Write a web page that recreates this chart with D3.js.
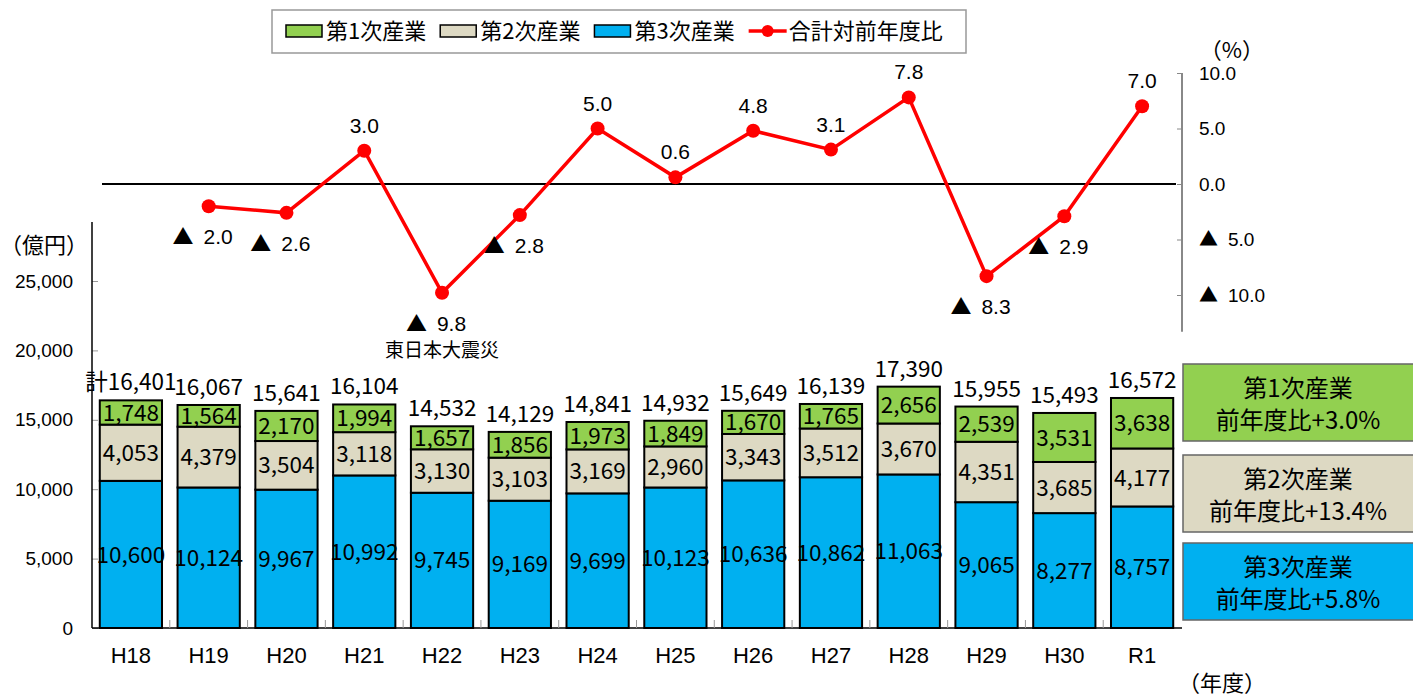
<!DOCTYPE html>
<html><head><meta charset="utf-8">
<script src="https://cdn.jsdelivr.net/npm/d3@7"></script>
<style>
body{margin:0;background:#fff;}
svg{display:block;}
text{font-family:"Liberation Sans",Arial,sans-serif;fill:#000;}
.jp{font-family:"Noto Sans CJK JP","Noto Sans",sans-serif;}
</style></head>
<body>
<svg id="c" width="1413" height="698"></svg>
<script>
const years = ["H18","H19","H20","H21","H22","H23","H24","H25","H26","H27","H28","H29","H30","R1"];
const primary = [1748,1564,2170,1994,1657,1856,1973,1849,1670,1765,2656,2539,3531,3638];
const secondary = [4053,4379,3504,3118,3130,3103,3169,2960,3343,3512,3670,4351,3685,4177];
const tertiary = [10600,10124,9967,10992,9745,9169,9699,10123,10636,10862,11063,9065,8277,8757];
const totals = [16401,16067,15641,16104,14532,14129,14841,14932,15649,16139,17390,15955,15493,16572];
const growth = [null,-2.0,-2.6,3.0,-9.8,-2.8,5.0,0.6,4.8,3.1,7.8,-8.3,-2.9,7.0];
const leftTicks = [0,5000,10000,15000,20000,25000];
const rightTicks = [10,5,0,-5,-10];
const seriesNames = ["第1次産業","第2次産業","第3次産業"];
const lineName = "合計対前年度比";
const sectorGrowth = ["+3.0%","+13.4%","+5.8%"];
const eventNote = "東日本大震災";
const eventYear = "H22";

const colors = {primary:"#92D050", secondary:"#DDD9C3", tertiary:"#00B0F0", line:"#FF0000"};
const svg = d3.select("#c");
const fmt = d3.format(",");

// writes a percentage with a large "▲" for negatives
function pctText(sel, v){
  sel.text(null);
  if(v<0){
    sel.append("tspan").attr("font-family","Noto Sans CJK JP, sans-serif").text("▲");
    sel.append("tspan").attr("dx",10).text(Math.abs(v).toFixed(1));
  } else {
    sel.append("tspan").text(v.toFixed(1));
  }
}

const x = d3.scaleBand().domain(years).range([92,1181]).paddingInner(0.2).paddingOuter(0.1);
const y = d3.scaleLinear().domain([0,25000]).range([628,281]);
const r = d3.scaleLinear().domain([-10,10]).range([295,73]);
const bw = x.bandwidth();

// left axis
const gl = svg.append("g").attr("transform","translate(92,0)")
  .call(d3.axisLeft(y).tickValues(leftTicks).tickFormat(fmt).tickSizeInner(-6).tickSizeOuter(0).tickPadding(19));
gl.select(".domain").remove();
gl.selectAll(".tick line").attr("stroke","#999");
gl.selectAll(".tick text").attr("font-size",19).attr("font-family","Liberation Sans, Arial, sans-serif");
svg.append("line").attr("x1",92).attr("x2",92).attr("y1",y(0)).attr("y2",y(29250)).attr("stroke","#000").attr("stroke-width",1.5);
svg.append("text").attr("class","jp").attr("x",44).attr("y",245).attr("dy","0.35em").attr("text-anchor","middle").attr("font-size",22).text("（億円）");

// right axis
const gr = svg.append("g").attr("transform","translate(1182,0)")
  .call(d3.axisRight(r).tickValues(rightTicks).tickSizeInner(-5).tickSizeOuter(0).tickPadding(17));
gr.select(".domain").remove();
gr.selectAll(".tick line").attr("stroke","#888");
gr.selectAll(".tick text").attr("font-size",19).attr("font-family","Liberation Sans, Arial, sans-serif")
  .each(function(v){ pctText(d3.select(this), v); });
svg.append("line").attr("x1",1182).attr("x2",1182).attr("y1",r(10)).attr("y2",r(-13.3)).attr("stroke","#888").attr("stroke-width",2);
svg.append("text").attr("class","jp").attr("x",1232).attr("y",50).attr("dy","0.35em").attr("text-anchor","middle").attr("font-size",22).text("（%）");

// bottom axis
svg.append("line").attr("x1",92).attr("x2",1182).attr("y1",y(0)).attr("y2",y(0)).attr("stroke","#000").attr("stroke-width",1.5);
svg.append("g").selectAll("line").data(years.slice(1)).join("line")
  .attr("x1",d=>x(d)-x.step()*x.paddingInner()/2).attr("x2",d=>x(d)-x.step()*x.paddingInner()/2)
  .attr("y1",y(0)).attr("y2",y(0)-8).attr("stroke","#999");
svg.append("g").selectAll("text").data(years).join("text")
  .attr("x",d=>x(d)+bw/2).attr("y",663).attr("text-anchor","middle").attr("font-size",22).text(d=>d);
svg.append("text").attr("class","jp").attr("x",1222).attr("y",683).attr("dy","0.35em").attr("text-anchor","middle").attr("font-size",22).text("（年度）");

// stacked bars
const rows = years.map((yr,i)=>({yr, primary:primary[i], secondary:secondary[i], tertiary:tertiary[i], total:totals[i]}));
const stack = d3.stack().keys(["tertiary","secondary","primary"])(rows);
const gb = svg.append("g");
stack.forEach(layer=>{
  gb.append("g").selectAll("rect").data(layer).join("rect")
    .attr("x",d=>x(d.data.yr)).attr("width",bw)
    .attr("y",d=>y(d[1])).attr("height",d=>y(d[0])-y(d[1]))
    .attr("fill",colors[layer.key]).attr("stroke","#000").attr("stroke-width",2);
});
stack.forEach(layer=>{
  gb.append("g").selectAll("text").data(layer).join("text")
    .attr("class","jp")
    .attr("x",d=>x(d.data.yr)+bw/2).attr("y",d=>(y(d[0])+y(d[1]))/2).attr("dy","0.36em")
    .attr("text-anchor","middle").attr("font-size",22.5).text(d=>fmt(d.data[layer.key]));
});
gb.append("g").selectAll("text").data(rows).join("text")
  .attr("class","jp")
  .attr("x",d=>x(d.yr)+bw/2).attr("y",d=>y(d.total)-10)
  .attr("text-anchor","middle").attr("font-size",22.5).text((d,i)=>(i===0?"計":"")+fmt(d.total));

// zero line
svg.append("line").attr("x1",102).attr("x2",1176).attr("y1",r(0)).attr("y2",r(0)).attr("stroke","#000").attr("stroke-width",2);

// growth line
const pts = years.map((yr,i)=>({yr, v:growth[i]})).filter(d=>d.v!==null);
svg.append("path").datum(pts)
  .attr("d",d3.line().x(d=>x(d.yr)+bw/2).y(d=>r(d.v)))
  .attr("fill","none").attr("stroke",colors.line).attr("stroke-width",3.5);
svg.append("g").selectAll("circle").data(pts).join("circle")
  .attr("cx",d=>x(d.yr)+bw/2).attr("cy",d=>r(d.v)).attr("r",7).attr("fill",colors.line);
svg.append("g").selectAll("text").data(pts).join("text")
  .attr("x",d=>x(d.yr)+bw/2 + (d.v<0?-6:0))
  .attr("y",d=>d.v<0 ? r(d.v)+38 : r(d.v)-18)
  .attr("text-anchor","middle").attr("font-size",21)
  .each(function(d){ pctText(d3.select(this), d.v); });
const ev = pts.find(d=>d.yr===eventYear);
svg.append("text").attr("class","jp").attr("x",x(eventYear)+bw/2).attr("y",r(ev.v)+58).attr("dy","0.35em")
  .attr("text-anchor","middle").attr("font-size",19).text(eventNote);

// legend
const lg = svg.append("g");
lg.append("rect").attr("x",272).attr("y",10).attr("width",694).attr("height",43).attr("fill","#fff").attr("stroke","#999").attr("stroke-width",1.5);
let cx = 286;
const legItems = seriesNames.map((n,i)=>({name:n, type:"rect", color:[colors.primary,colors.secondary,colors.tertiary][i]}))
  .concat([{name:lineName, type:"line", color:colors.line}]);
legItems.forEach(it=>{
  if(it.type==="rect"){
    lg.append("rect").attr("x",cx).attr("y",25).attr("width",36).attr("height",12).attr("fill",it.color).attr("stroke","#000").attr("stroke-width",1.5);
  } else {
    lg.append("line").attr("x1",cx).attr("x2",cx+38).attr("y1",31).attr("y2",31).attr("stroke",it.color).attr("stroke-width",3.5);
    lg.append("circle").attr("cx",cx+19).attr("cy",31).attr("r",6).attr("fill",it.color);
  }
  const t = lg.append("text").attr("class","jp").attr("x",cx+40).attr("y",31).attr("dy","0.36em").attr("font-size",22).text(it.name);
  cx = cx + 40 + t.node().getComputedTextLength() + 14;
});

// right side boxes
const boxes = [{y:364,h:77},{y:455,h:77},{y:543,h:77}];
const boxColors = [colors.primary,colors.secondary,colors.tertiary];
boxes.forEach((b,i)=>{
  svg.append("rect").attr("x",1183).attr("y",b.y).attr("width",235).attr("height",b.h)
    .attr("fill",boxColors[i]).attr("stroke","#666").attr("stroke-width",1.5);
  svg.append("text").attr("class","jp").attr("x",1298).attr("y",b.y+24).attr("dy","0.36em").attr("text-anchor","middle").attr("font-size",24).text(seriesNames[i]);
  svg.append("text").attr("class","jp").attr("x",1298).attr("y",b.y+56).attr("dy","0.36em").attr("text-anchor","middle").attr("font-size",24).text("前年度比"+sectorGrowth[i]);
});
</script>
</body></html>
